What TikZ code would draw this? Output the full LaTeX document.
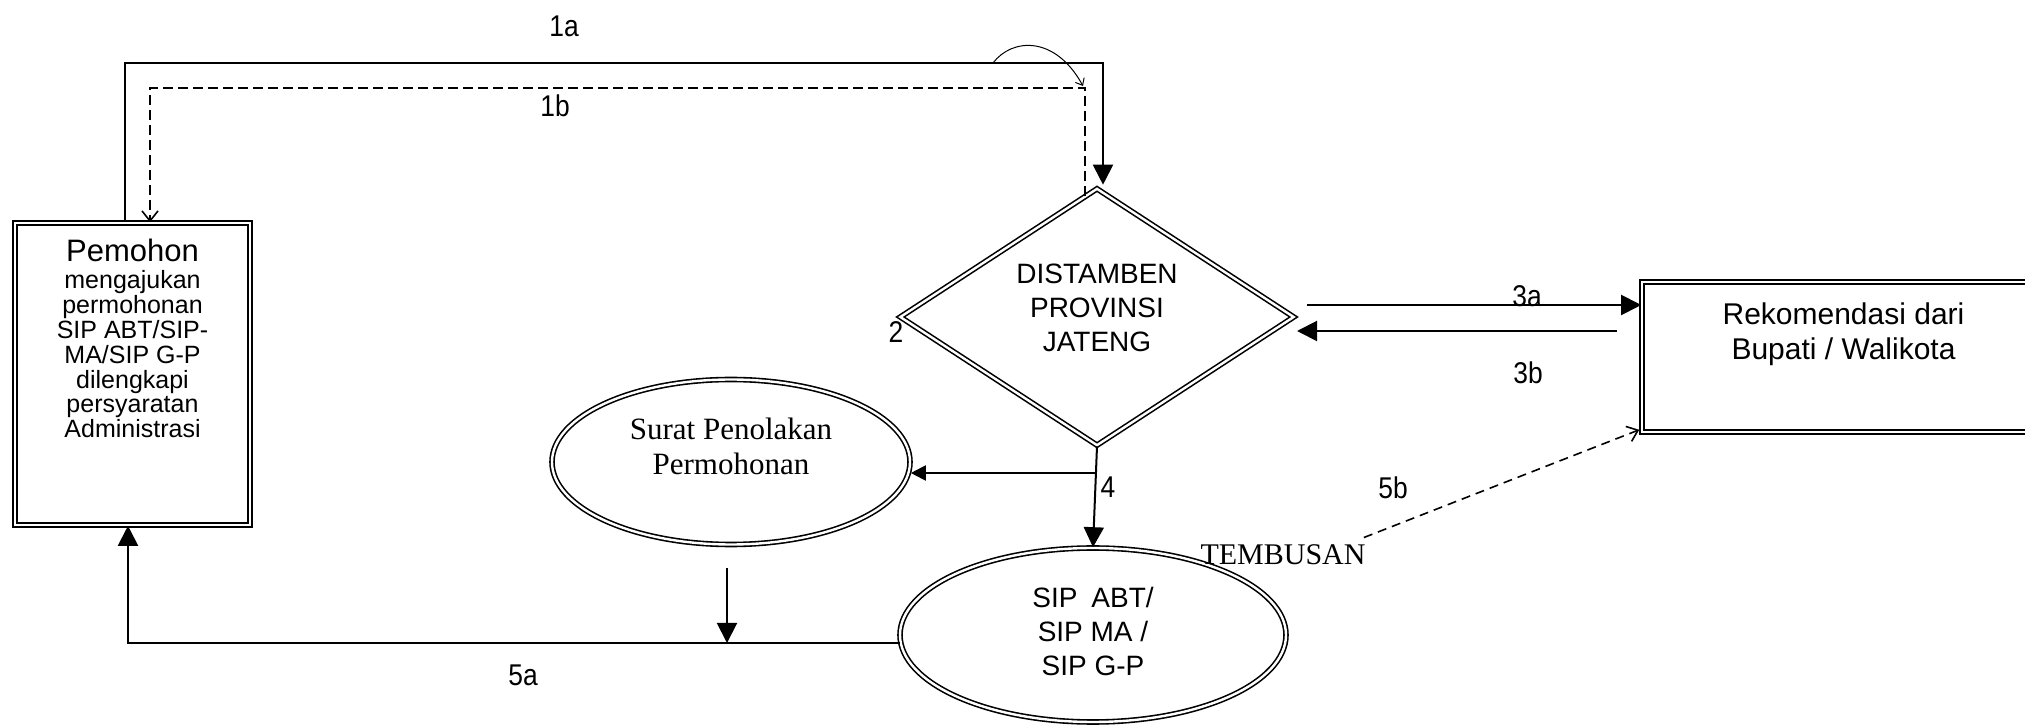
\documentclass[tikz,border=0pt]{standalone}
\usepackage{fontspec}
\setmainfont{Liberation Sans}
\newfontfamily\tnr{Liberation Serif}
\newfontfamily\numfont[FakeStretch=0.88]{Liberation Sans}
\usetikzlibrary{shapes.geometric,arrows.meta,calc}
\begin{document}
\begin{tikzpicture}[x=0.5pt,y=-0.5pt,
  dbl/.style={draw, line width=0.8pt, double, double distance=1.2pt},
  conn/.style={line width=1pt},
  arr/.style={conn, -{Triangle[length=10pt,width=10pt]}},
  sarr/.style={conn, -{Triangle[length=7.5pt,width=7.5pt]}},
  darr/.style={line width=0.8pt, dash pattern=on 5pt off 2.5pt, -{Straight Barb[length=5pt,width=8pt]}},
  numlabel/.style={font=\numfont\fontsize{15}{18}\selectfont, inner sep=0pt},
]
\useasboundingbox (0,0) rectangle (2025,726);
\clip (0,0) rectangle (2025,726);

% nodes
\node[dbl, rectangle, inner sep=0pt] (pem) at (132.5,374)
  {\parbox[c][151pt][t]{117.5pt}{\centering\vspace*{8.2pt}{\fontsize{15.5}{12.4}\selectfont Pemohon}\\[1.1pt]
   \fontsize{12.5}{12.4}\selectfont mengajukan\\ permohonan\\ SIP ABT/SIP-\\ MA/SIP G-P\\ dilengkapi\\ persyaratan\\ Administrasi\par}};

\node[dbl, diamond, shape aspect=1.53, inner sep=0pt, minimum width=197pt, minimum height=128.5pt,
      font=\fontsize{14}{17}\selectfont] (dia) at (1097,317)
  {\begin{tabular}{@{}c@{}}DISTAMBEN\\PROVINSI\\JATENG\\[6pt]\end{tabular}};

\node[dbl, rectangle, inner sep=0pt, minimum width=201.5pt, minimum height=75pt,
      font=\fontsize{15}{17.5}\selectfont] (rek) at (1843.5,357)
  {\begin{tabular}{@{}c@{}}Rekomendasi dari\\Bupati / Walikota\\[21.5pt]\end{tabular}};

\node[dbl, ellipse, inner sep=0pt, minimum width=179pt, minimum height=82.5pt,
      font=\tnr\fontsize{15.5}{17.5}\selectfont] (sur) at (731,462)
  {\begin{tabular}{@{}c@{}}Surat Penolakan\\Permohonan\\[11.5pt]\end{tabular}};

\node[dbl, ellipse, inner sep=0pt, minimum width=193pt, minimum height=87pt,
      font=\fontsize{14}{17}\selectfont] (sip) at (1093,635)
  {\begin{tabular}{@{}c@{}}SIP\enspace ABT/\\SIP MA /\\SIP G-P\end{tabular}};

\node[font=\tnr\fontsize{15}{18}\selectfont, inner sep=0pt] (tem) at (1283,555) {TEMBUSAN};

% labels
\node[numlabel] (l1a) at (564,26) {1a};
\node[numlabel] (l1b) at (555,106) {1b};
\node[numlabel] (l2) at (896,332) {2};
\node[numlabel] (l3a) at (1527,296) {3a};
\node[numlabel] (l3b) at (1528,373) {3b};
\node[numlabel] (l4) at (1108,487) {4};
\node[numlabel] (l5a) at (523,675) {5a};
\node[numlabel] (l5b) at (1393,488) {5b};

% coordinates
\coordinate (a1) at (125,63);
\coordinate (a2) at (1103,63);
\coordinate (b1) at (150,88);
\coordinate (b2) at (1085,88);
\coordinate (cv1) at (993,63);
\coordinate (cv2) at (1083,86);
\coordinate (y3a) at (0,305);
\coordinate (s3a) at (1307,305);
\coordinate (s3b) at (1617,331);
\coordinate (e3b) at (1297,331);
\coordinate (br) at (1095,473);
\coordinate (c5a) at (128,643);
\coordinate (sd) at (727,568);

% connectors
\draw[arr] (pem.north -| a1) -- (a1) -- (a2) -- ($(a2 |- dia.north)+(0,-3)$);
\draw[darr] ($(dia.north -| b2)+(0,8)$) -- (b2) -- (b1) -- (b1 |- pem.north);
\draw[line width=0.5pt, -{Straight Barb[length=3pt,width=5pt]}] (cv1) .. controls (1012,38) and (1055,35) .. (cv2);
\draw[arr] (s3a) -- (rek.west |- y3a);
\draw[arr] (s3b) -- (e3b);
\draw[arr] (dia.south) -- (sip.north);
\draw[sarr] (br) -- (br -| sur.east);
\draw[arr] (sd) -- (sd |- c5a);
\draw[arr] ($(sip.west)+(1,8)$) -- (c5a) -- (c5a |- pem.south);
\draw[line width=0.8pt, dash pattern=on 4.5pt off 3pt, -{Straight Barb[length=5pt,width=8pt]}] ($(tem.north east)+(-2,-7)$) -- ($(rek.south west)+(-2,-3)$);
\end{tikzpicture}
\end{document}
